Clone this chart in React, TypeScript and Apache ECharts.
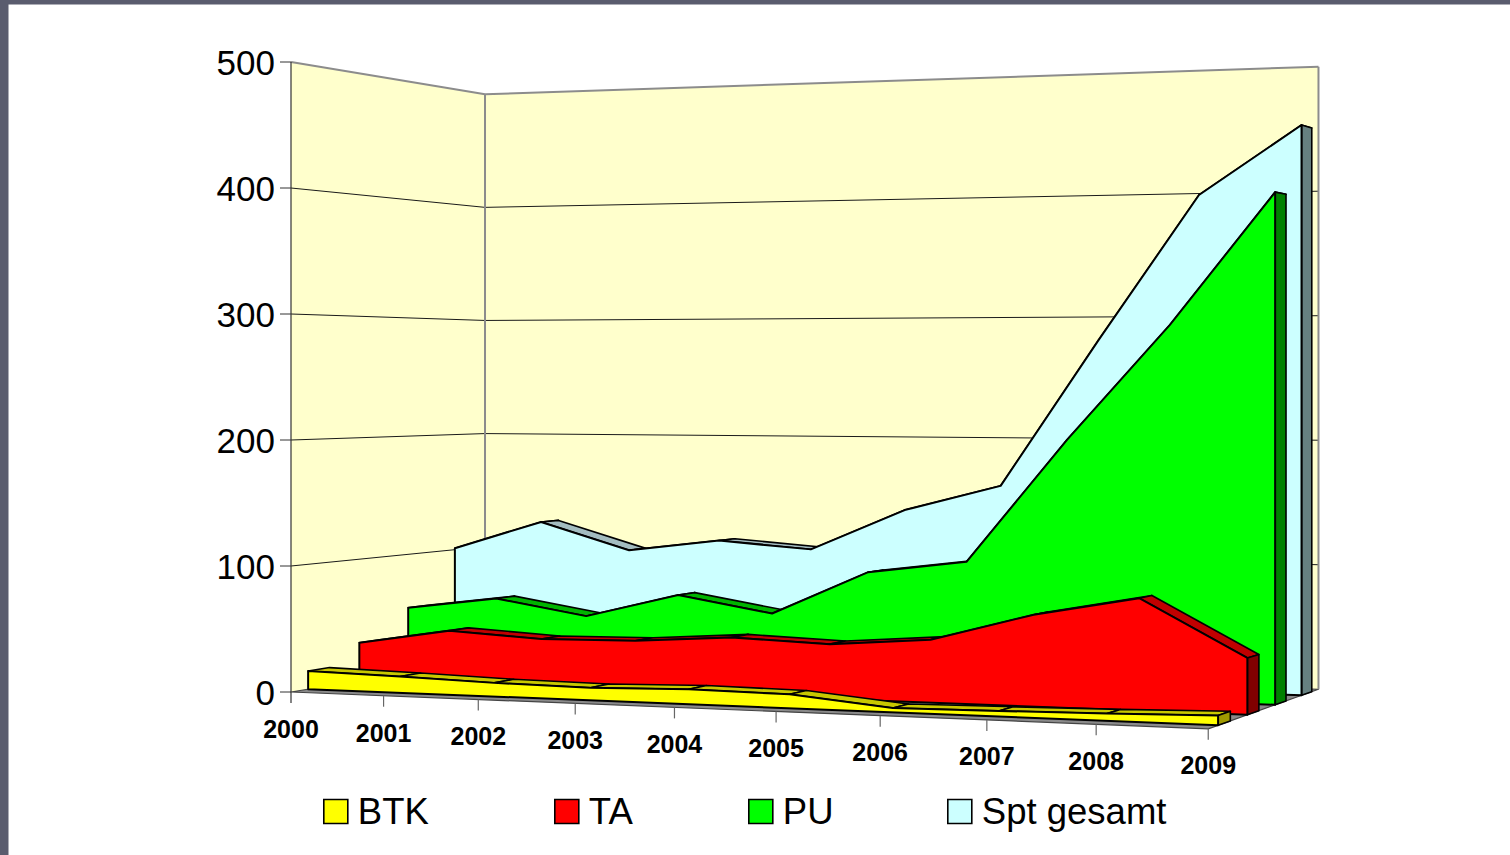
import React, { useEffect, useRef } from "react";
import * as echarts from "echarts";

const years = ["2000", "2001", "2002", "2003", "2004", "2005", "2006", "2007", "2008", "2009"];
const gridValues = [0, 100, 200, 300, 400, 500];
const btk = [14.6, 12.9, 10.7, 9.8, 11.5, 10.6, 3.3, 4.2, 5.3, 7];
const ta = [31.2, 43.5, 39.2, 40.2, 45.3, 42.5, 48.4, 69.8, 84.5, 42.2];
const pu = [54.8, 64.7, 52.2, 71.7, 58.8, 94.1, 104.1, 201.4, 291, 392.2];
const spt = [101.3, 125.5, 102.8, 112.6, 106.8, 140.8, 161.8, 280.5, 395.7, 449.3];

const GW = 900;
const GH = 500;
const FONT = "'Liberation Sans', Arial, sans-serif";

function project(t: number, v: number, z: number): number[] {
  const w = 1 - 0.102 * t + 0.114 * z;
  const x = (291 + 794 * t + 249.3 * z) / w;
  const y = (692 - 37.5 * t + 43 * z - 1.26 * v) / w;
  return [x, y];
}

function toWorld(api: any, k: number, v: number): number[] {
  const p = api.coord([k, v]);
  return [p[0] / GW, GH - p[1]];
}

function poly(points: number[][], fill: string, stroke: string, lineWidth: number) {
  return {
    type: "polygon",
    shape: { points },
    style: { fill, stroke, lineWidth, lineJoin: "round" },
    silent: true,
  };
}

function seg(a: number[], b: number[], stroke: string, lineWidth: number) {
  return {
    type: "line",
    shape: { x1: a[0], y1: a[1], x2: b[0], y2: b[1] },
    style: { stroke, lineWidth },
    silent: true,
  };
}

function renderWalls(params: any, api: any) {
  if (params.dataIndex !== 0) return null;
  const P = (k: number, v: number, z: number) => {
    const [t, val] = toWorld(api, k, v);
    return project(t, val, z);
  };
  const last = years.length - 1;
  const top = gridValues[gridValues.length - 1];
  const children: any[] = [];
  children.push(poly([P(0, 0, 0), P(0, top, 0), P(0, top, 1), P(0, 0, 1)], "#ffffcc", "none", 0));
  children.push(poly([P(0, 0, 1), P(0, top, 1), P(last, top, 1), P(last, 0, 1)], "#ffffcc", "none", 0));
  children.push(poly([P(0, 0, 0), P(0, 0, 1), P(last, 0, 1), P(last, 0, 0)], "#8a8a8a", "#444444", 1.2));
  gridValues.forEach((v, i) => {
    const a = P(0, v, 0);
    const b = P(0, v, 1);
    const c = P(last, v, 1);
    if (v > 0 && v < top) {
      children.push(seg(a, b, "#1a1a1a", 1));
      children.push(seg(b, c, "#1a1a1a", 1));
    }
    children.push(seg([a[0] - 11, a[1]], a, "#333333", 1));
    children.push({
      type: "text",
      x: 275,
      y: a[1],
      style: { text: String(gridValues[i]), fill: "#000", font: `35px ${FONT}`, textAlign: "right", textVerticalAlign: "middle" },
      silent: true,
    });
  });
  children.push(seg(P(0, top, 0), P(0, top, 1), "#8c8c8c", 2));
  children.push(seg(P(0, top, 1), P(last, top, 1), "#8c8c8c", 2));
  children.push(seg(P(0, 0, 1), P(0, top, 1), "#8c8c8c", 2));
  children.push(seg(P(last, 0, 1), P(last, top, 1), "#8c8c8c", 2));
  const axisTop = P(0, top, 0);
  const axisBottom = P(0, 0, 0);
  children.push(seg(axisTop, [axisBottom[0], axisBottom[1] + 11], "#333333", 1.2));
  years.forEach((year, k) => {
    const f = P(k, 0, 0);
    if (k > 0) children.push(seg(f, [f[0], f[1] + 11], "#666666", 1.2));
    children.push({
      type: "text",
      x: f[0],
      y: f[1] + 37 - k * 0.1,
      style: { text: year, fill: "#000", font: `bold 25px ${FONT}`, textAlign: "center", textVerticalAlign: "middle" },
      silent: true,
    });
  });
  return { type: "group", children };
}

function areaRenderer(z0: number, front: string, topColor: string, sideColor: string) {
  const z1 = z0 + 0.102;
  return (params: any, api: any) => {
    if (params.dataIndex !== 0) return null;
    const n = years.length;
    const P = (k: number, v: number, z: number) => {
      const [t, val] = toWorld(api, k, v);
      return project(t, val, z);
    };
    const val = (k: number) => api.value(1, k);
    const children: any[] = [];
    for (let k = 0; k < n - 1; k++) {
      children.push(
        poly([P(k, val(k), z0), P(k + 1, val(k + 1), z0), P(k + 1, val(k + 1), z1), P(k, val(k), z1)], topColor, "#000", 1.6)
      );
    }
    children.push(
      poly([P(n - 1, 0, z0), P(n - 1, val(n - 1), z0), P(n - 1, val(n - 1), z1), P(n - 1, 0, z1)], sideColor, "#000", 1.6)
    );
    const outline: number[][] = [P(0, 0, z0)];
    for (let k = 0; k < n; k++) outline.push(P(k, val(k), z0));
    outline.push(P(n - 1, 0, z0));
    children.push(poly(outline, front, "#000", 2));
    return { type: "group", children };
  };
}

function legendAt(name: string, left: number) {
  return {
    data: [name],
    left,
    top: 788,
    padding: 5,
    icon: "rect",
    itemWidth: 24,
    itemHeight: 24,
    selectedMode: false,
    itemStyle: { borderColor: "#000", borderWidth: 1.6 },
    textStyle: { fontSize: 36.5, color: "#000", fontFamily: FONT, padding: [0, 0, 0, 5] },
  };
}

export default function App() {
  const ref = useRef<HTMLDivElement>(null);
  useEffect(() => {
    const chart = echarts.init(ref.current!, null, { renderer: "svg" });
    const toData = (arr: number[]) => arr.map((v, i) => [i, v]);
    const mk = (name: string, arr: number[], z0: number, front: string, topC: string, side: string) => ({
      name,
      type: "custom",
      coordinateSystem: "cartesian2d",
      clip: false,
      silent: true,
      itemStyle: { color: front },
      encode: { x: 0, y: 1 },
      data: toData(arr),
      renderItem: areaRenderer(z0, front, topC, side),
    });
    chart.setOption({
      animation: false,
      backgroundColor: "#ffffff",
      grid: { left: 0, top: 0, width: GW, height: GH, show: false },
      xAxis: { type: "category", data: years, boundaryGap: false, show: false },
      yAxis: { type: "value", min: 0, max: GH, interval: 100, show: false },
      legend: [legendAt("BTK", 318), legendAt("TA", 549), legendAt("PU", 743), legendAt("Spt gesamt", 942)],
      graphic: [
        { type: "rect", left: 0, top: 0, shape: { width: 1510, height: 4.5 }, style: { fill: "#5a5c6e" }, silent: true },
        { type: "rect", left: 0, top: 0, shape: { width: 8.5, height: 855 }, style: { fill: "#5a5c6e" }, silent: true },
      ],
      series: [
        {
          name: "walls",
          type: "custom",
          coordinateSystem: "cartesian2d",
          clip: false,
          silent: true,
          encode: { x: 0, y: 1 },
          data: years.map((_, i) => [i, 0]),
          renderItem: renderWalls,
        },
        mk("Spt gesamt", spt, 0.83, "#ccffff", "#a3bcc0", "#668080"),
        mk("PU", pu, 0.578, "#00ff00", "#00b400", "#008000"),
        mk("TA", ta, 0.328, "#ff0000", "#c00000", "#800000"),
        mk("BTK", btk, 0.08, "#ffff00", "#c8c800", "#a09a00"),
      ],
    });
    return () => chart.dispose();
  }, []);
  return (
    <div style={{ position: "fixed", left: 0, top: 0, width: 1510, height: 855, background: "#fff" }}>
      <div ref={ref} style={{ width: 1510, height: 855 }} />
    </div>
  );
}
